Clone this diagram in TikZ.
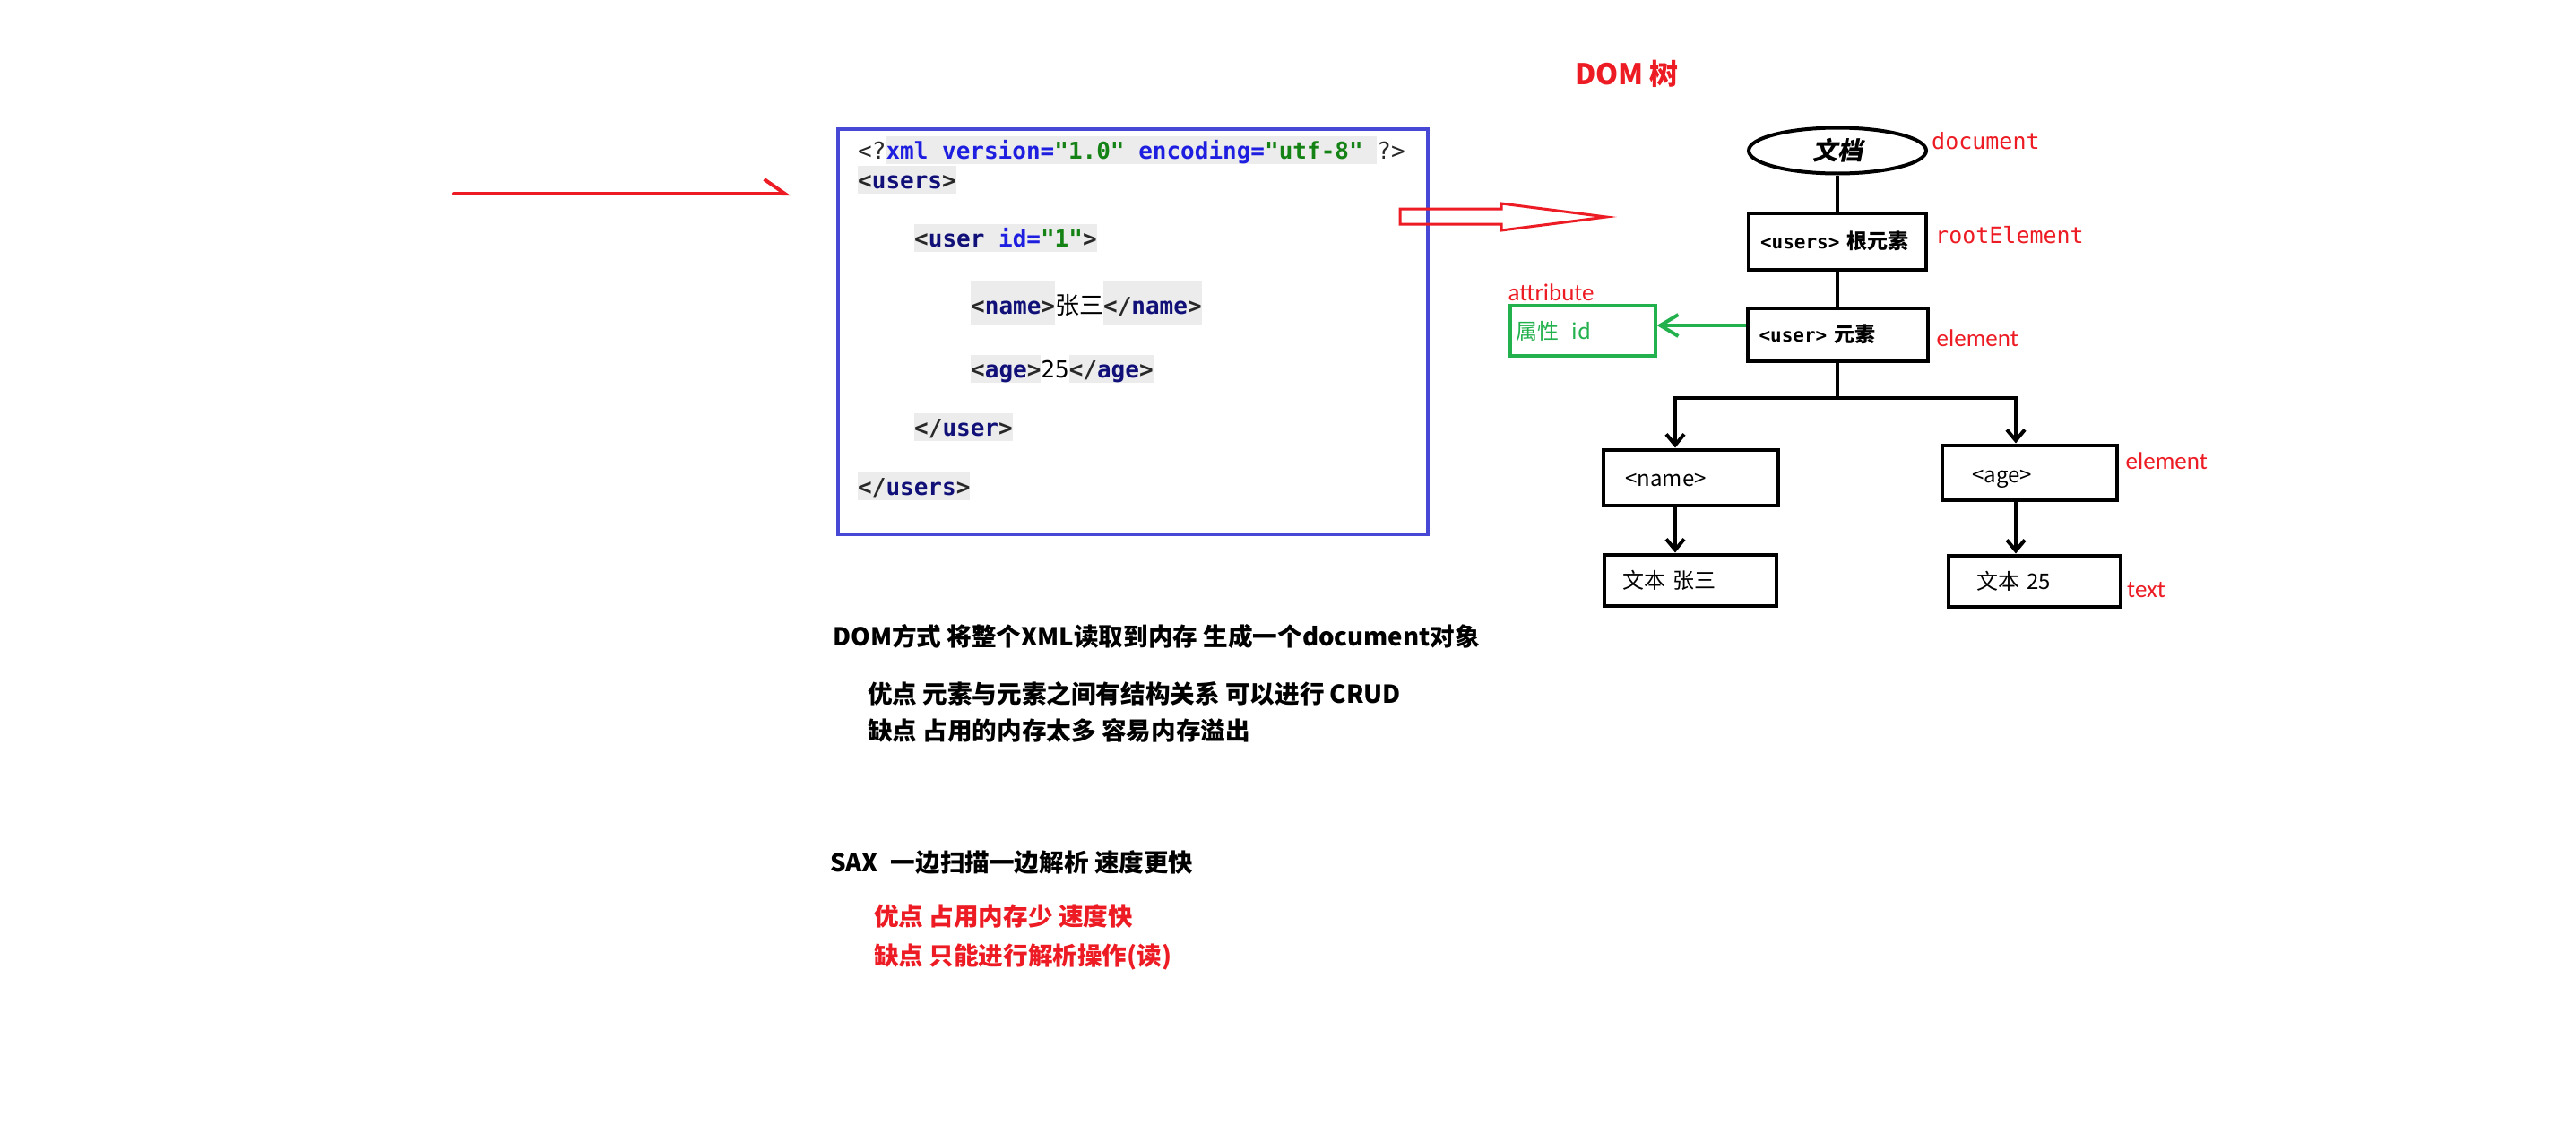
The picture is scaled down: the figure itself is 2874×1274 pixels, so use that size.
\documentclass[tikz,border=0pt]{standalone}
\usepackage{fontspec}
\setmainfont{Noto Sans CJK SC}
\setmonofont{DejaVu Sans Mono}
\newfontfamily\labelfont{Carlito}
\newfontfamily\slantfont{Noto Sans CJK SC}[FakeSlant=0.2]
\usetikzlibrary{arrows.meta, positioning, shapes.geometric}

\definecolor{paintred}{RGB}{237,28,36}
\definecolor{paintgreen}{RGB}{34,177,76}
\definecolor{boxblue}{RGB}{72,72,214}
\definecolor{codebg}{RGB}{236,236,236}
\definecolor{xmltag}{RGB}{16,16,120}
\definecolor{xmlattr}{RGB}{30,30,225}
\definecolor{xmlval}{RGB}{20,130,20}
\definecolor{xmlmark}{RGB}{40,40,40}

\setlength{\fboxsep}{0pt}
\newcommand{\sz}[1]{\fontsize{#1pt}{#1pt}\selectfont}
\newcommand{\codestrut}{\rule[-6pt]{0pt}{31pt}}
\newcommand{\tallstrut}{\rule[-12pt]{0pt}{48pt}}
\newcommand{\hl}[2][\codestrut]{\colorbox{codebg}{#1#2}}
\newcommand{\xtag}[1]{{\color{xmlmark}<}{\color{xmltag}#1}{\color{xmlmark}>}}
\newcommand{\xend}[1]{{\color{xmlmark}</}{\color{xmltag}#1}{\color{xmlmark}>}}
\newcommand{\sinktext}[2]{\raisebox{-#1}[\height][\depth]{#2}}

\tikzset{
  tree/.style={line width=4pt},
  treearrow/.style={tree, -{Straight Barb[length=12pt, width=20pt]}},
  treebox/.style={
    rectangle,
    draw,
    line width=4pt,
    align=left,
    inner ysep=0pt,
    font=\sz{24}
  },
  docnode/.style={
    ellipse,
    draw,
    line width=4pt,
    minimum width=198pt,
    minimum height=51pt,
    inner sep=0pt,
    font=\slantfont\bfseries\sz{28}
  },
  redlabel/.style={text=paintred, inner sep=0pt},
  monolabel/.style={redlabel, font=\ttfamily\sz{25}},
  sanslabel/.style={redlabel, font=\labelfont\sz{27}},
  codeline/.style={anchor=base west, inner sep=0pt, font=\ttfamily\bfseries\sz{26}},
  note/.style={anchor=west, inner sep=0pt, font=\bfseries\sz{27.6}},
  redarrow/.style={paintred, line width=4pt, line cap=round,
    -{Straight Barb[harpoon, length=23pt, width=32pt]}},
  greenarrow/.style={paintgreen, line width=4pt, -{Straight Barb[length=20pt, width=24pt]}}
}

\begin{document}
\begin{tikzpicture}[x=1pt, y=-1pt]
\path[fill=white, use as bounding box] (0,0) rectangle (2874,1274);

% xml source
\node[draw=boxblue, line width=4pt, minimum width=658pt, minimum height=452pt, inner sep=0pt] (xmlbox) at (1264,370) {};
\node[codeline] (decl) at (957,177) {{\color{xmlmark}\mdseries<?}\hl{\color{xmlattr}xml version=\color{xmlval}"1.0" \color{xmlattr}encoding=\color{xmlval}"utf-8" }{\color{xmlmark}\mdseries?>}};
\node[codeline] (usersopen) at (957,210) {\hl{\xtag{users}}};
\node[codeline] (useropen) at (1020,275) {\hl{{\color{xmlmark}<}{\color{xmltag}user} {\color{xmlattr}id=}{\color{xmlval}"1"}{\color{xmlmark}>}}};
\node[codeline] (nameline) at (1083,350) {\hl[\tallstrut]{\xtag{name}}{\rmfamily\mdseries\sz{27}张三}\hl[\tallstrut]{\xend{name}}};
\node[codeline] (ageline) at (1083,421) {\hl{\xtag{age}}{\mdseries 25}\hl{\xend{age}}};
\node[codeline] (userclose) at (1020,486) {\hl{\xend{user}}};
\node[codeline] (usersclose) at (957,552) {\hl{\xend{users}}};

% arrows into and out of the source
\coordinate (instart) at (506,216);
\coordinate (inend) at (882,216);
\draw[redarrow] (instart) -- (inend);
\draw[paintred, line width=3pt] (1562,233) -- (1675,233) -- (1675,227) -- (1792,242)
  -- (1675,257) -- (1675,250) -- (1562,250) -- cycle;

% dom tree
\node[redlabel, font=\bfseries\sz{32}] (title) at (1815,82) {DOM 树};
\node[docnode] (doc) at (2050,168) {文档};
\node[treebox, below=40pt of doc, text width=172pt, inner xsep=13pt, minimum height=63pt, font=\bfseries\sz{23}] (users) {{\ttfamily\sz{21}<users>} 根元素};
\node[treebox, below=39pt of users, text width=175pt, inner xsep=13pt, minimum height=59pt, font=\bfseries\sz{23}] (user) {{\ttfamily\sz{21}<user>} 元素};
\node[treebox, draw=paintgreen, text=paintgreen, left=99pt of user, yshift=4pt, text width=148pt, inner xsep=7pt, minimum height=56pt] (attr) {属性\hspace{14pt}id};
\coordinate[below=39pt of user] (fork);
\coordinate[left=181pt of fork] (forkl);
\coordinate[right=199pt of fork] (forkr);
\node[treebox, below=56pt of forkl, xshift=17pt, text width=145pt, inner xsep=25pt, minimum height=62pt] (name) {\sinktext{3pt}{<name>}};
\node[treebox, below=51pt of forkr, xshift=15pt, text width=127pt, inner xsep=34pt, minimum height=61pt] (age) {\sinktext{7pt}{<age>}};
\node[treebox, below=51pt of name, text width=152pt, inner xsep=20pt, minimum height=57pt] (nametext) {文本 张三};
\node[treebox, below=58pt of age, xshift=6pt, text width=130pt, inner xsep=31pt, minimum height=57pt] (agetext) {文本 25};

\node[monolabel, right=4pt of doc, yshift=11pt] (doclabel) {document};
\node[monolabel, right=8pt of users, yshift=7pt] (rootlabel) {rootElement};
\node[sanslabel, right=8pt of user, yshift=-4pt] (userlabel) {element};
\node[sanslabel, above right=3pt and 0pt of attr.north west] (attrlabel) {attribute};
\node[sanslabel, right=8pt of age, yshift=13pt] (agelabel) {element};
\node[sanslabel, right=5pt of agetext, yshift=-10pt] (textlabel) {text};

\draw[tree] (doc) -- (users);
\draw[tree] (users) -- (user);
\draw[tree] (user) -- (fork);
\draw[tree, line cap=rect] (forkl) -- (forkr);
\draw[treearrow] (forkl) -- (forkl |- name.north);
\draw[treearrow] (forkr) -- (forkr |- age.north);
\draw[treearrow] (forkl |- name.south) -- (forkl |- nametext.north);
\draw[treearrow] (forkr |- age.south) -- (forkr |- agetext.north);
\draw[greenarrow] ([yshift=10pt]user.west) -- ([yshift=10pt]user.west -| attr.east);

% dom and sax notes
\node[note] (domtext) at (929,710) {DOM方式 将整个XML读取到内存 生成一个document对象};
\node[note] (dompro) at (968,774) {优点 元素与元素之间有结构关系 可以进行 CRUD};
\node[note] (domcon) at (968,815) {缺点 占用的内存太多 容易内存溢出};
\node[note] (saxtext) at (926,962) {SAX\hspace{14pt}一边扫描一边解析 速度更快};
\node[note, text=paintred] (saxpro) at (975,1022) {优点 占用内存少 速度快};
\node[note, text=paintred] (saxcon) at (975,1067) {缺点 只能进行解析操作(读)};
\end{tikzpicture}
\end{document}
